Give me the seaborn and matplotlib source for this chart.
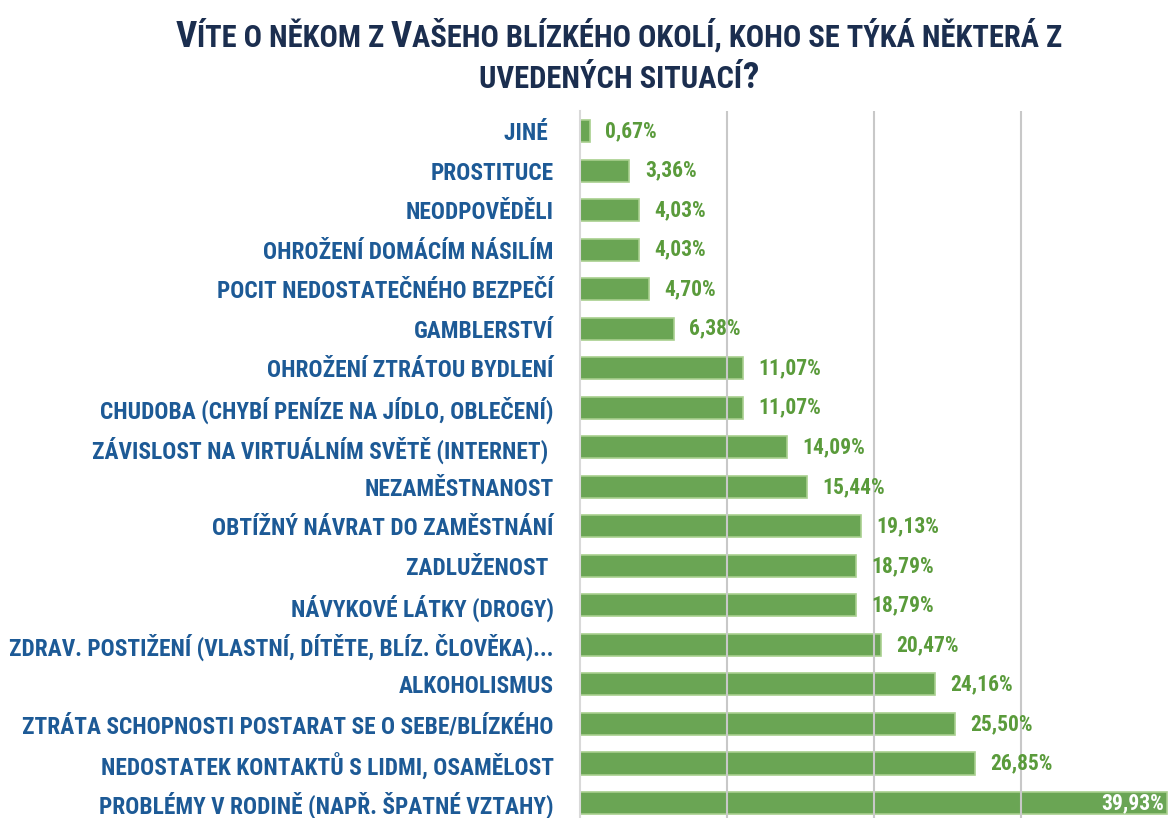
import matplotlib
matplotlib.use("Agg")
import matplotlib.pyplot as plt
import seaborn as sns
import pandas as pd

categories = [
    "JINÉ ",
    "PROSTITUCE",
    "NEODPOVĚDĚLI",
    "OHROŽENÍ DOMÁCÍM NÁSILÍM",
    "POCIT NEDOSTATEČNÉHO BEZPEČÍ",
    "GAMBLERSTVÍ",
    "OHROŽENÍ ZTRÁTOU BYDLENÍ",
    "CHUDOBA (CHYBÍ PENÍZE NA JÍDLO, OBLEČENÍ)",
    "ZÁVISLOST NA VIRTUÁLNÍM SVĚTĚ (INTERNET) ",
    "NEZAMĚSTNANOST",
    "OBTÍŽNÝ NÁVRAT DO ZAMĚSTNÁNÍ",
    "ZADLUŽENOST ",
    "NÁVYKOVÉ LÁTKY (DROGY)",
    "ZDRAV. POSTIŽENÍ (VLASTNÍ, DÍTĚTE, BLÍZ. ČLOVĚKA)...",
    "ALKOHOLISMUS",
    "ZTRÁTA SCHOPNOSTI POSTARAT SE O SEBE/BLÍZKÉHO",
    "NEDOSTATEK KONTAKTŮ S LIDMI, OSAMĚLOST",
    "PROBLÉMY V RODINĚ (NAPŘ. ŠPATNÉ VZTAHY)",
]
values = [0.67, 3.36, 4.03, 4.03, 4.70, 6.38, 11.07, 11.07, 14.09, 15.44,
          19.13, 18.79, 18.79, 20.47, 24.16, 25.50, 26.85, 39.93]

title_line1 = [("V", "big"), ("ÍTE O NĚKOM Z ", "small"), ("V", "big"),
               ("AŠEHO BLÍZKÉHO OKOLÍ, KOHO SE TÝKÁ NĚKTERÁ Z", "small")]
title_line2 = [("UVEDENÝCH SITUACÍ", "small"), ("?", "big")]

FONT = ["Roboto Condensed", "PT Sans Narrow", "Fira Sans Condensed", "DejaVu Sans"]
BAR = "#6aa554"
EDGE = "#a8cf8e"
VAL = "#5a9b3b"
LAB = "#1d5a96"
TITLE = "#1b2e4f"

sns.set_theme(style="white")
plt.rcParams["font.family"] = FONT
plt.rcParams["font.weight"] = "bold"

W, H = 1170, 818
fig = plt.figure(figsize=(W / 100, H / 100), dpi=100)
ax = fig.add_axes([580 / W, 0.0, 588 / W, (818 - 111) / H])

df = pd.DataFrame({"cat": categories, "val": values})
sns.barplot(data=df, y="cat", x="val", orient="h", color=BAR, saturation=1,
            width=0.56, edgecolor=EDGE, linewidth=1.2, ax=ax, zorder=2)

ax.set_xlim(0, 40)
ax.set_ylim(len(categories) - 1 + 0.38, -0.51)
ax.set_xlabel("")
ax.set_ylabel("")
ax.set_xticks([10, 20, 30])
ax.set_xticklabels([])
ax.tick_params(axis="x", length=0)
ax.xaxis.grid(True, color="#c8c8c8", linewidth=1.5, zorder=3)
ax.set_axisbelow(False)
for s in ["top", "right", "bottom"]:
    ax.spines[s].set_visible(False)
ax.spines["left"].set_color("#d9d9d9")
ax.spines["left"].set_linewidth(1.5)

ax.tick_params(axis="y", length=0, pad=19)
for lab in ax.get_yticklabels():
    lab.set_fontsize(16.8)
    lab.set_color(LAB)
    lab.set_fontweight("bold")
    lab.set_family(FONT)

for i, v in enumerate(values):
    txt = f"{v:.2f}".replace(".", ",") + "%"
    if v > 35:
        ax.text(v - 0.2, i, txt, ha="right", va="center", color="white",
                fontsize=15.5, fontweight="bold", family=FONT, zorder=4)
    else:
        ax.text(v + 1.05, i, txt, ha="left", va="center", color=VAL,
                fontsize=15.5, fontweight="bold", family=FONT, zorder=4)

# small-caps style title
sizes = {"big": 26.5, "small": 22}
renderer = fig.canvas.get_renderer()


def draw_line(pieces, y_px, cx_px):
    texts = []
    for s, k in pieces:
        t = fig.text(0, 0, s, fontsize=sizes[k], color=TITLE, fontweight="bold",
                     family=FONT, ha="left", va="baseline")
        texts.append(t)
    widths = [t.get_window_extent(renderer).width for t in texts]
    x = cx_px - sum(widths) / 2
    for t, w in zip(texts, widths):
        t.set_position((x / W, 1 - y_px / H))
        x += w


draw_line(title_line1, 47, 619)
draw_line(title_line2, 88, 619)

fig.savefig("out.png", dpi=100)
